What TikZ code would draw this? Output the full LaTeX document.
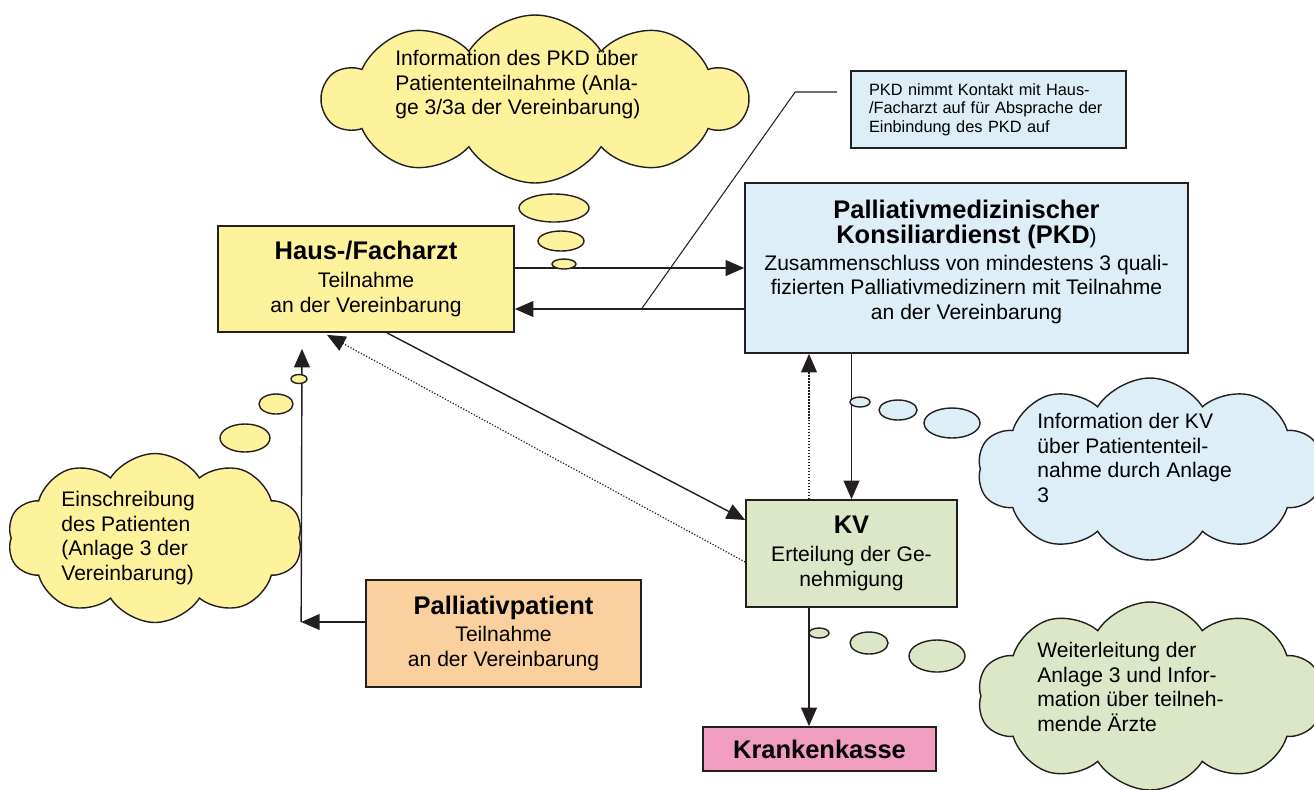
\documentclass[tikz,border=0pt]{standalone}
\usepackage{fontspec}
\setmainfont{Liberation Sans}
\usetikzlibrary{positioning, arrows.meta, calc, shapes.symbols}

\definecolor{lineink}{RGB}{35,31,32}
\definecolor{arztyellow}{RGB}{255,242,157}
\definecolor{pkdblue}{RGB}{221,238,246}
\definecolor{kvgreen}{RGB}{220,231,199}
\definecolor{patorange}{RGB}{250,209,158}
\definecolor{kassepink}{RGB}{240,157,192}

\newcommand{\boxtitle}[1]{{\fontsize{14.5}{16}\selectfont\bfseries #1}}

\begin{document}
\begin{tikzpicture}[
    x=0.02cm, y=-0.02cm,
    >={Triangle[length=10.5pt, width=9pt]},
    box/.style={draw=lineink, line width=1pt, rectangle, align=center, inner sep=2pt, font=\fontsize{12}{14.2}\selectfont},
    cloudbox/.style={cloud, cloud puffs=10, cloud puff arc=115, draw=lineink, line width=0.8pt, inner sep=0pt},
    cloudtxt/.style={anchor=north west, align=left, inner sep=0pt, font=\fontsize{12}{14}\selectfont},
    bubble/.style={draw=lineink, line width=0.8pt},
    mainarrow/.style={->, line width=0.8pt, lineink},
    dotarrow/.style={->, densely dotted, line width=0.7pt, lineink},
    hookline/.style={line width=0.6pt, lineink}
]
\useasboundingbox (0,0) rectangle (1314,789);
\clip (0,0) rectangle (1314,789);

% ==========================================
% Boxes
% ==========================================
\node[box, fill=arztyellow, minimum width=5.92cm, minimum height=2.12cm] (haus) at (366, 279)
    {\boxtitle{Haus-/Facharzt}\\[2pt] Teilnahme\\ an der Vereinbarung};
\node[box, fill=pkdblue, minimum width=8.86cm, minimum height=3.4cm] (pkd) at (966.5, 268)
    {\boxtitle{Palliativmedizinischer}\\ \boxtitle{Konsiliardienst (PKD})\\[1pt]
     Zusammenschluss von mindestens 3 quali-\\ fizierten Palliativmedizinern mit Teilnahme\\ an der Vereinbarung\\[-5pt] \mbox{}};
\node[box, fill=pkdblue, minimum width=5.5cm, minimum height=1.54cm, text width=4.78cm, align=left,
      font=\fontsize{9.3}{10.4}\selectfont] (callout) at (988.5, 109.5)
    {PKD nimmt Kontakt mit Haus-\\ /Facharzt auf für Absprache der\\ Einbindung des PKD auf};
\node[box, fill=kvgreen, minimum width=4.22cm, minimum height=2.14cm] (kv) at (851.5, 553.5)
    {\boxtitle{KV}\\[2pt] Erteilung der Ge-\\ nehmigung};
\node[box, fill=patorange, minimum width=5.5cm, minimum height=2.14cm] (patient) at (503.5, 633.5)
    {\boxtitle{Palliativpatient}\\[1pt] Teilnahme\\ an der Vereinbarung};
\node[box, fill=kassepink, minimum width=4.66cm, minimum height=0.88cm] (kasse) at (819.5, 749)
    {\boxtitle{Krankenkasse}};

% ==========================================
% Connectors
% ==========================================
\draw[mainarrow] (pkd.west -| haus.east) -- (pkd.west);
\draw[mainarrow] ($(pkd.west)+(0,41)$) -- ($(pkd.west -| haus.east)+(0,41)$);

% callout hook
\coordinate (hook_start) at ($(callout.west)+(-13,-17.5)$);
\coordinate (hook_end) at ($(pkd.west)+(-102,40)$);
\draw[hookline] (hook_start) -- ++(-42,0) -- (hook_end);

\draw[mainarrow] ($(haus.south)+(21,0)$) -- ($(kv.west)+(0,-33.5)$);
\draw[dotarrow] ($(kv.west)+(0,8.5)$) -- ($(haus.south)+(-39,2)$);

\draw[mainarrow] (pkd.south -| kv.north) -- (kv.north);
\draw[dotarrow] ($(kv.north)+(-42.5,0)$) coordinate (kv_up) -- (kv_up |- pkd.south);
\draw[mainarrow] ($(kv.south)+(-42.5,0)$) coordinate (kv_down) -- (kv_down |- kasse.north);

\draw[mainarrow] ($(patient.west)+(0,-11.5)$) -- ++(-64,0) coordinate (pat_corner);
\coordinate (haus_in) at ($(haus.south)+(-64,16)$);
\draw[mainarrow] (pat_corner) -- (haus_in);

% ==========================================
% Thought clouds
% ==========================================
\node[cloudbox, fill=arztyellow, minimum width=8.48cm, minimum height=3.36cm] (cloud_pkd) at (535, 99) {};
\node[cloudtxt] (info_pkd) at (395, 50) {Information des PKD über\\ Patiententeilnahme (Anla-\\ ge 3/3a der Vereinbarung)};
\draw[bubble, fill=arztyellow] (554,208) ellipse [x radius=35, y radius=14];
\draw[bubble, fill=arztyellow] (561,241) ellipse [x radius=23, y radius=10];
\draw[bubble, fill=arztyellow] (564,264) ellipse [x radius=12, y radius=5];

\node[cloudbox, fill=arztyellow, minimum width=5.9cm, minimum height=3.38cm] (cloud_patient) at (155, 538) {};
\node[cloudtxt] (info_patient) at (61, 491) {Einschreibung\\ des Patienten\\ (Anlage 3 der\\ Vereinbarung)};
\draw[bubble, fill=arztyellow] (245,438) ellipse [x radius=25, y radius=14];
\draw[bubble, fill=arztyellow] (276,404) ellipse [x radius=17, y radius=10];
\draw[bubble, fill=arztyellow] (299,379) ellipse [x radius=8, y radius=4.5];

\node[cloudbox, fill=pkdblue, minimum width=6.9cm, minimum height=3.64cm] (cloud_kv) at (1150, 469) {};
\node[cloudtxt] (info_kv) at (1037, 413) {Information der KV\\ über Patiententeil-\\ nahme durch Anlage\\ 3};
\draw[bubble, fill=pkdblue] (860,402) ellipse [x radius=10, y radius=5];
\draw[bubble, fill=pkdblue] (898,410) ellipse [x radius=19, y radius=10];
\draw[bubble, fill=pkdblue] (952,423) ellipse [x radius=28, y radius=15];

\node[cloudbox, fill=kvgreen, minimum width=6.9cm, minimum height=3.76cm] (cloud_kasse) at (1150, 696) {};
\node[cloudtxt] (info_kasse) at (1037, 642) {Weiterleitung der\\ Anlage 3 und Infor-\\ mation über teilneh-\\ mende Ärzte};
\draw[bubble, fill=kvgreen] (819,633) ellipse [x radius=10, y radius=5];
\draw[bubble, fill=kvgreen] (869,643) ellipse [x radius=19, y radius=11];
\draw[bubble, fill=kvgreen] (937,656) ellipse [x radius=28, y radius=16];
\end{tikzpicture}
\end{document}
